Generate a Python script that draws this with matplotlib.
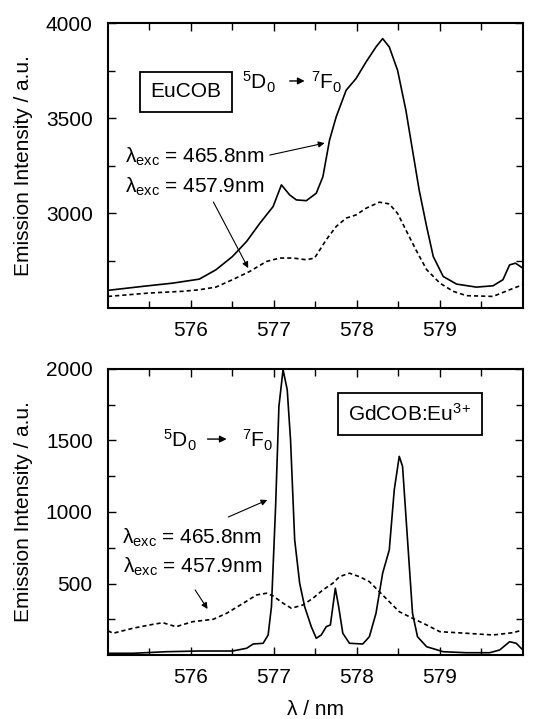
import matplotlib
matplotlib.use("Agg")
import matplotlib.pyplot as plt

plt.rcParams['font.family'] = ['Liberation Sans', 'DejaVu Sans']
plt.rcParams['mathtext.fontset'] = 'custom'
plt.rcParams['mathtext.rm'] = 'Liberation Sans'
plt.rcParams['mathtext.it'] = 'Liberation Sans:italic'
plt.rcParams['mathtext.bf'] = 'Liberation Sans:bold'

# EuCOB, excitation 465.8 nm (solid)
eu_x_4658 = [575.0, 575.42, 575.78, 576.1, 576.3, 576.5, 576.67, 576.83, 576.99, 577.09,
             577.19, 577.27, 577.39, 577.51, 577.59, 577.67, 577.75, 577.87, 577.99, 578.11,
             578.23, 578.31, 578.39, 578.49, 578.59, 578.67, 578.75, 578.84, 578.92, 579.04,
             579.2, 579.44, 579.64, 579.76, 579.84, 579.91, 580.0]
eu_y_4658 = [2593, 2614, 2631, 2652, 2701, 2771, 2850, 2946, 3034, 3148,
             3095, 3069, 3065, 3104, 3191, 3384, 3506, 3646, 3708, 3795,
             3874, 3918, 3874, 3751, 3541, 3331, 3121, 2929, 2771, 2666,
             2626, 2610, 2617, 2649, 2727, 2736, 2710]

# EuCOB, excitation 457.9 nm (dashed)
eu_x_4579 = [575.0, 575.5, 575.9, 576.1, 576.3, 576.5, 576.71, 576.91, 577.07, 577.23,
             577.39, 577.49, 577.63, 577.75, 577.87, 577.99, 578.11, 578.27, 578.39, 578.49,
             578.59, 578.71, 578.84, 579.0, 579.16, 579.32, 579.64, 579.84, 580.0]
eu_y_4579 = [2561, 2579, 2588, 2596, 2610, 2649, 2693, 2745, 2763, 2763,
             2754, 2763, 2859, 2929, 2973, 2990, 3025, 3057, 3048, 2998,
             2911, 2807, 2702, 2631, 2588, 2565, 2561, 2596, 2623]

# GdCOB:Eu3+, excitation 465.8 nm (solid)
gd_x_4658 = [575.0, 575.3, 575.7, 576.1, 576.5, 576.67, 576.75, 576.87, 576.93, 576.97,
             577.02, 577.06, 577.11, 577.16, 577.2, 577.25, 577.31, 577.37, 577.45, 577.51,
             577.57, 577.63, 577.68, 577.71, 577.74, 577.78, 577.83, 577.91, 578.07, 578.15,
             578.23, 578.31, 578.39, 578.45, 578.51, 578.55, 578.61, 578.67, 578.73, 578.84,
             579.04, 579.32, 579.6, 579.72, 579.84, 579.92, 580.0]
gd_y_4658 = [12, 12, 23, 28, 28, 47, 77, 82, 140, 338,
             1038, 1739, 1995, 1855, 1505, 805, 502, 338, 198, 117,
             140, 198, 210, 338, 467, 338, 152, 82, 77, 128,
             292, 572, 735, 1155, 1389, 1319, 805, 292, 128, 58,
             23, 16, 16, 35, 93, 82, 35]

# GdCOB:Eu3+, excitation 457.9 nm (dashed)
gd_x_4579 = [575.0, 575.06, 575.3, 575.5, 575.66, 575.82, 576.02, 576.27, 576.43, 576.63,
             576.79, 576.91, 576.99, 577.11, 577.21, 577.35, 577.47, 577.59, 577.71, 577.79,
             577.91, 578.03, 578.15, 578.27, 578.39, 578.51, 578.67, 578.84, 579.0, 579.32,
             579.64, 579.88, 580.0]
gd_y_4579 = [170, 152, 187, 210, 226, 198, 233, 250, 292, 362,
             420, 432, 413, 362, 327, 350, 397, 455, 502, 548,
             572, 548, 513, 443, 373, 303, 257, 210, 163, 152,
             140, 156, 175]

x_ticks = [576, 577, 578, 579]

FS = 15

fig = plt.figure(figsize=(5.33, 7.19), dpi=100)
ax1 = fig.add_axes([0.2026, 0.5716, 0.7784, 0.3964])
ax2 = fig.add_axes([0.2026, 0.0890, 0.7784, 0.3978])


def style_axis(ax, ymin, ymax, ymajor, ylabels):
    ax.set_xlim(575, 580)
    ax.set_ylim(ymin, ymax)
    ax.set_xticks(x_ticks)
    ax.set_xticks([575.5 + i for i in range(5)], minor=True)
    ax.set_yticks(ylabels)
    ax.set_yticks([ymin + ymajor / 2 + i * ymajor for i in range(int((ymax - ymin) / ymajor))],
                  minor=True)
    ax.tick_params(which='both', direction='in', top=True, right=True,
                   labelsize=FS, width=1.0)
    ax.tick_params(which='major', length=6)
    ax.tick_params(which='minor', length=5)
    ax.tick_params(axis='x', which='major', pad=9)
    ax.tick_params(axis='y', which='major', pad=11)
    for s in ax.spines.values():
        s.set_linewidth(1.5)
    ax.set_ylabel('Emission Intensity / a.u.', fontsize=FS, labelpad=9)


arrow_thin = dict(arrowstyle='-|>', lw=0.8, color='black', mutation_scale=9,
                  shrinkA=0, shrinkB=0)
arrow_small = dict(arrowstyle='-|>', lw=1.0, color='black', mutation_scale=10,
                   shrinkA=0, shrinkB=0)

# top panel
ax1.plot(eu_x_4658, eu_y_4658, color='black', lw=1.2)
ax1.plot(eu_x_4579, eu_y_4579, color='black', lw=1.2, dashes=(2.5, 1.8))
style_axis(ax1, 2500, 4000, 500, [3000, 3500, 4000])

ax1.text(575.94, 3637, 'EuCOB', fontsize=FS, ha='center', va='center',
         bbox=dict(boxstyle='square,pad=0.5', fc='white', ec='black', lw=1.3))
ax1.text(576.82, 3690, '$^5$D$_0$', fontsize=FS, ha='center', va='center')
ax1.annotate('', xy=(577.37, 3695), xytext=(577.19, 3695), arrowprops=arrow_small)
ax1.text(577.64, 3690, '$^7$F$_0$', fontsize=FS, ha='center', va='center')

ax1.text(575.2, 3295, 'λ$_{\\mathrm{exc}}$ = 465.8nm', fontsize=FS, ha='left', va='center')
ax1.annotate('', xy=(577.61, 3368), xytext=(576.95, 3305), arrowprops=arrow_thin)
ax1.text(575.21, 3137, 'λ$_{\\mathrm{exc}}$ = 457.9nm', fontsize=FS, ha='left', va='center')
ax1.annotate('', xy=(576.69, 2710), xytext=(576.27, 3058), arrowprops=arrow_thin)

# bottom panel
ax2.plot(gd_x_4658, gd_y_4658, color='black', lw=1.2)
ax2.plot(gd_x_4579, gd_y_4579, color='black', lw=1.2, dashes=(2.5, 1.8))
style_axis(ax2, 0, 2000, 500, [500, 1000, 1500, 2000])
ax2.set_xlabel('λ / nm', fontsize=FS, labelpad=10)

ax2.text(578.64, 1685, 'GdCOB:Eu$^{3}$$^{+}$', fontsize=FS, ha='center', va='center',
         bbox=dict(boxstyle='square,pad=0.5', fc='white', ec='black', lw=1.3))
ax2.text(575.87, 1500, '$^5$D$_0$', fontsize=FS, ha='center', va='center')
ax2.annotate('', xy=(576.43, 1510), xytext=(576.2, 1510), arrowprops=arrow_small)
ax2.text(576.8, 1500, '$^7$F$_0$', fontsize=FS, ha='center', va='center')

ax2.text(575.17, 818, 'λ$_{\\mathrm{exc}}$ = 465.8nm', fontsize=FS, ha='left', va='center')
ax2.annotate('', xy=(576.92, 1084), xytext=(576.45, 965), arrowprops=arrow_thin)
ax2.text(575.18, 615, 'λ$_{\\mathrm{exc}}$ = 457.9nm', fontsize=FS, ha='left', va='center')
ax2.annotate('', xy=(576.2, 322), xytext=(576.05, 455), arrowprops=arrow_thin)

fig.savefig('out.png', dpi=100)
